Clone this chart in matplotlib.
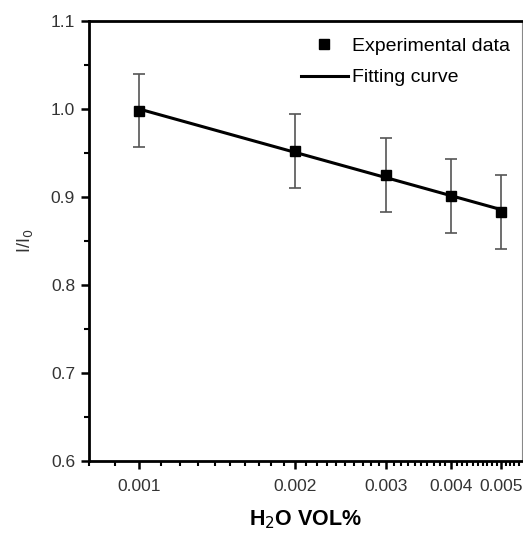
import numpy as np
import matplotlib
matplotlib.use("Agg")
import matplotlib.pyplot as plt
from matplotlib.ticker import FixedLocator, FixedFormatter, MultipleLocator, NullFormatter

plt.rcParams['font.family'] = ['Liberation Sans', 'DejaVu Sans']

h2o = [0.001, 0.002, 0.003, 0.004, 0.005]
ratio = [0.998, 0.952, 0.925, 0.901, 0.883]
err = [0.041, 0.042, 0.042, 0.042, 0.042]
xticks = [0.001, 0.002, 0.003, 0.004, 0.005]
xtick_labels = ["0.001", "0.002", "0.003", "0.004", "0.005"]
yticks = [0.6, 0.7, 0.8, 0.9, 1.0, 1.1]

fig = plt.figure(figsize=(5.23, 5.33), dpi=100)
ax = fig.add_axes([0.170, 0.135, 0.828, 0.826])

ax.set_xscale('log')
ax.errorbar(h2o, ratio, yerr=err, fmt='none', ecolor='#555555', elinewidth=1.2,
            capsize=4, capthick=1.2, zorder=2)
# fitting curve: linear fit in log(x)
coef = np.polyfit(np.log10(h2o), ratio, 1)
xf = np.array([h2o[0], h2o[-1]])
yf = np.polyval(coef, np.log10(xf))
ax.plot(xf, yf, color='black', lw=2.2, label='Fitting curve', zorder=3)
ax.plot(h2o, ratio, 's', color='black', ms=6.5, ls='none',
        label='Experimental data', zorder=4)

ax.set_xlim(0.0008, 0.00548)
ax.set_ylim(0.6, 1.1)

ax.xaxis.set_major_locator(FixedLocator(xticks))
ax.xaxis.set_major_formatter(FixedFormatter(xtick_labels))
minor = [v / 10000 for v in range(8, 55) if v % 10 != 0]
ax.xaxis.set_minor_locator(FixedLocator(minor))
ax.xaxis.set_minor_formatter(NullFormatter())
ax.yaxis.set_major_locator(FixedLocator(yticks))
ax.yaxis.set_minor_locator(MultipleLocator(0.05))

ax.tick_params(which='major', direction='out', length=6, width=1.8,
               labelsize=12.5, labelcolor='#333333', pad=4)
ax.tick_params(which='minor', direction='out', length=3.5, width=1.5)
ax.tick_params(axis='x', which='major', pad=7)

for s in ['left', 'bottom', 'top']:
    ax.spines[s].set_linewidth(2.0)
ax.spines['right'].set_linewidth(0.8)
ax.spines['right'].set_color('#888888')

ax.set_ylabel('I/I$_0$', fontsize=13, color='#333333', labelpad=11)
ax.set_xlabel('H$_2$O VOL%', fontsize=15.5, fontweight='bold', labelpad=10)

handles, labels = ax.get_legend_handles_labels()
ax.legend(handles[::-1], labels[::-1], loc='upper right', frameon=False,
          bbox_to_anchor=(0.985, 0.975),
          fontsize=14, handlelength=2.4, handletextpad=0.2,
          borderaxespad=0.0, labelspacing=0.7, borderpad=0.3)

fig.savefig('out.png', dpi=100)
